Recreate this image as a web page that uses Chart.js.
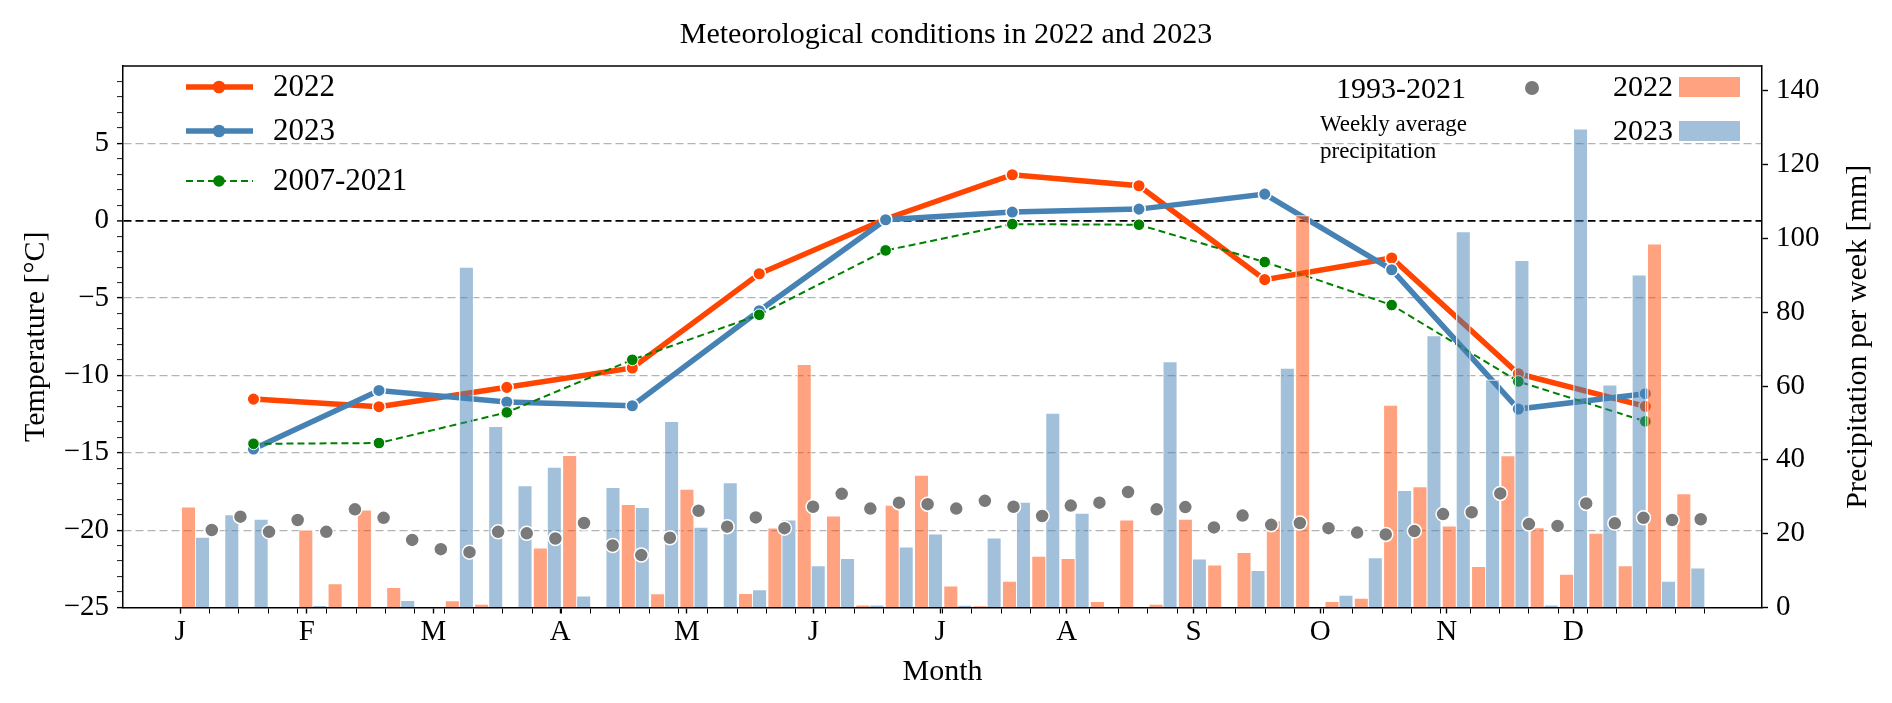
<!DOCTYPE html>
<html>
<head>
<meta charset="utf-8">
<script src="https://cdn.jsdelivr.net/npm/chart.js@4.4.1/dist/chart.umd.min.js"></script>
<style>
  html, body { margin: 0; padding: 0; background: #fff; }
  canvas { display: block; }
</style>
</head>
<body>
<canvas id="chart" width="1892" height="703"></canvas>
<script>
const SERIF = "'Liberation Serif', 'Times New Roman', serif";

// month axis
const MONTH_LABELS = ['J', 'F', 'M', 'A', 'M', 'J', 'J', 'A', 'S', 'O', 'N', 'D'];
const MONTH_TICKS  = [0, 4.32, 8.64, 12.96, 17.28, 21.6, 25.92, 30.24, 34.56, 38.88, 43.2, 47.52];

// axis ticks
const TEMP_TICKS = [-25, -24, -23, -22, -21, -20, -19, -18, -17, -16, -15, -14, -13, -12, -11,
  -10, -9, -8, -7, -6, -5, -4, -3, -2, -1, 0, 1, 2, 3, 4, 5, 6, 7, 8, 9, 10];
const PREC_TICKS = [0, 20, 40, 60, 80, 100, 120, 140];

// monthly mean temperature, placed at these week positions
const MONTH_POS    = [2.5, 6.78, 11.14, 15.42, 19.75, 24.06, 28.38, 32.7, 36.99, 41.32, 45.64, 49.97];
const TEMP_2022    = [-11.53, -12.02, -10.77, -9.52, -3.43, 0.11, 2.97, 2.26, -3.81, -2.41, -9.89, -12.0];
const TEMP_2023    = [-14.76, -10.97, -11.72, -11.96, -5.82, 0.06, 0.56, 0.75, 1.72, -3.17, -12.17, -11.18];
const TEMP_0721    = [-14.42, -14.37, -12.39, -8.99, -6.08, -1.92, -0.22, -0.26, -2.67, -5.45, -10.39, -12.97];

// weekly precipitation [mm], weeks 0..52
const PREC_2022 = [
  0, 27.2, 0, 0, 0, 21.0, 6.4, 26.4, 5.4, 0,
  1.8, 0.9, 0, 16.1, 41.2, 0, 27.9, 3.7, 32.0, 0,
  3.8, 21.5, 65.8, 24.8, 0.7, 27.7, 35.8, 5.8, 0.3, 7.1,
  13.9, 13.3, 1.6, 23.7, 0.9, 23.9, 11.5, 14.9, 23.5, 106.2,
  1.6, 2.5, 54.8, 32.7, 22.1, 11.1, 41.1, 21.6, 9.0, 20.1,
  11.3, 98.5, 30.8
];
const PREC_2023 = [
  0, 19.0, 25.1, 23.9, 0, 0.5, 0, 0, 1.9, 0,
  92.2, 49.0, 33.0, 38.0, 3.1, 32.5, 27.1, 50.4, 21.7, 33.8,
  4.8, 23.7, 11.3, 13.3, 0.7, 16.4, 19.9, 0.6, 18.8, 28.5,
  52.6, 25.5, 0, 0, 66.6, 13.1, 0, 10.0, 64.8, 0,
  3.3, 13.5, 31.7, 73.6, 101.8, 61.7, 94.0, 0.7, 129.6, 60.3,
  90.1, 7.1, 10.7
];
// 1993-2021 weekly average precipitation [mm], weeks 1..53
const PREC_AVG = [
  21.0, 24.6, 20.5, 23.7, 20.5, 26.6, 24.3, 18.3, 15.8, 15.0,
  20.5, 20.1, 18.7, 22.9, 16.8, 14.2, 18.9, 26.2, 21.9, 24.4,
  21.5, 27.3, 30.8, 26.8, 28.4, 28.0, 26.8, 28.9, 27.3, 24.8,
  27.6, 28.4, 31.3, 26.6, 27.2, 21.7, 24.9, 22.4, 22.9, 21.5,
  20.3, 19.8, 20.7, 25.3, 25.8, 30.9, 22.6, 22.1, 28.2, 22.8,
  24.3, 23.7, 23.9
];

const WEEKS = PREC_2022.map((_, i) => i);
const AVG_WEEKS = PREC_AVG.map((_, i) => i + 1);

const ORANGE = '#FF4500';
const BLUE = '#4682B4';
const GREEN = '#008000';
const GREY = '#7a7a7a';

Chart.defaults.font.family = SERIF;
Chart.defaults.color = '#000';

const fmtTemp = v => (v < 0 ? '\u2212' + Math.abs(v) : String(v));
const asTicks = arr => arr.map(v => ({ value: v }));

// top spine + right axis title (reads bottom to top, like the original)
const framePlugin = {
  id: 'frame',
  afterDraw(chart) {
    const { ctx, chartArea: a } = chart;
    ctx.save();
    ctx.strokeStyle = '#000';
    ctx.lineWidth = 1.5;
    ctx.beginPath();
    ctx.moveTo(a.left, a.top);
    ctx.lineTo(a.right, a.top);
    ctx.stroke();

    const t = chart.options.scales.y1.title;
    ctx.translate(1858, (a.top + a.bottom) / 2);
    ctx.rotate(-Math.PI / 2);
    ctx.font = `30px ${SERIF}`;
    ctx.fillStyle = '#000';
    ctx.textAlign = 'center';
    ctx.textBaseline = 'middle';
    ctx.fillText(t.text, 0, 0);
    ctx.restore();
  }
};

const legendPlugin = {
  id: 'cornerLegends',
  afterDraw(chart) {
    const { ctx } = chart;
    const ds = chart.data.datasets;
    ctx.save();
    ctx.textBaseline = 'middle';

    // left: line series
    const rows = [87, 131, 181];
    ds.filter(d => d.type === 'line' && d.showLine !== false)
      .sort((p, q) => q.order - p.order)
      .forEach((d, i) => {
        const y = rows[i];
        ctx.strokeStyle = d.borderColor;
        ctx.lineWidth = d.borderWidth;
        ctx.setLineDash(d.borderDash || []);
        ctx.beginPath();
        ctx.moveTo(186, y);
        ctx.lineTo(253, y);
        ctx.stroke();
        ctx.setLineDash([]);
        ctx.beginPath();
        ctx.arc(219, y, d.pointRadius, 0, Math.PI * 2);
        ctx.fillStyle = d.pointBackgroundColor;
        ctx.fill();
        ctx.fillStyle = '#000';
        ctx.font = `31px ${SERIF}`;
        ctx.textAlign = 'left';
        ctx.fillText(d.label, 273, y + 1);
      });

    // right: average dots and bar patches
    const avg = ds.find(d => d.showLine === false);
    ctx.font = `30px ${SERIF}`;
    ctx.textAlign = 'right';
    ctx.fillStyle = '#000';
    ctx.fillText(avg.label, 1466, 90);
    ctx.beginPath();
    ctx.arc(1532, 88, 7, 0, Math.PI * 2);
    ctx.fillStyle = avg.pointBackgroundColor;
    ctx.fill();
    ctx.fillStyle = '#000';
    ctx.font = `23px ${SERIF}`;
    ctx.textAlign = 'left';
    ctx.fillText('Weekly average', 1320, 125);
    ctx.fillText('precipitation', 1320, 152);

    const bars = ds.filter(d => d.type === 'bar');
    const patchY = [77, 121];
    bars.forEach((d, i) => {
      ctx.fillStyle = d.backgroundColor;
      ctx.fillRect(1679, patchY[i], 61, 20);
      ctx.fillStyle = '#000';
      ctx.font = `30px ${SERIF}`;
      ctx.textAlign = 'right';
      ctx.fillText(d.label, 1673, patchY[i] + 11);
    });
    ctx.restore();
  }
};

const pts = (xs, ys) => xs.map((x, i) => ({ x, y: ys[i] }));

new Chart(document.getElementById('chart'), {
  type: 'bar',
  data: {
    datasets: [
      {
        type: 'line', label: '2022', data: pts(MONTH_POS, TEMP_2022),
        xAxisID: 'x', yAxisID: 'y', order: 4,
        borderColor: ORANGE, borderWidth: 5.5,
        pointRadius: 6.3, pointBackgroundColor: ORANGE,
        pointBorderColor: '#fff', pointBorderWidth: 1.5, tension: 0
      },
      {
        type: 'line', label: '2023', data: pts(MONTH_POS, TEMP_2023),
        xAxisID: 'x', yAxisID: 'y', order: 3,
        borderColor: BLUE, borderWidth: 5.5,
        pointRadius: 6.3, pointBackgroundColor: BLUE,
        pointBorderColor: '#fff', pointBorderWidth: 1.5, tension: 0
      },
      {
        type: 'line', label: '2007-2021', data: pts(MONTH_POS, TEMP_0721),
        xAxisID: 'x', yAxisID: 'y', order: 2,
        borderColor: GREEN, borderWidth: 2, borderDash: [7, 4],
        pointRadius: 5.8, pointBackgroundColor: GREEN,
        pointBorderColor: '#fff', pointBorderWidth: 1, tension: 0
      },
      {
        type: 'bar', label: '2022', data: pts(WEEKS, PREC_2022),
        xAxisID: 'x', yAxisID: 'y1', order: 1,
        backgroundColor: 'rgba(255,69,0,0.5)', borderColor: '#fff', borderWidth: 0.8,
        barThickness: 14
      },
      {
        type: 'bar', label: '2023', data: pts(WEEKS, PREC_2023),
        xAxisID: 'x', yAxisID: 'y1', order: 1,
        backgroundColor: 'rgba(70,130,180,0.5)', borderColor: '#fff', borderWidth: 0.8,
        barThickness: 14
      },
      {
        type: 'line', label: '1993-2021', data: pts(AVG_WEEKS, PREC_AVG),
        xAxisID: 'xAvg', yAxisID: 'y1', order: 0, showLine: false,
        pointRadius: 7, pointBackgroundColor: GREY,
        pointBorderColor: '#fff', pointBorderWidth: 1.5
      }
    ]
  },
  options: {
    responsive: false,
    devicePixelRatio: 1,
    animation: false,
    layout: { padding: 0 },
    plugins: {
      legend: { display: false },
      tooltip: { enabled: false },
      title: {
        display: true,
        text: 'Meteorological conditions in 2022 and 2023',
        font: { size: 30, weight: 'normal', family: SERIF },
        color: '#000',
        padding: { top: 17, bottom: 13 }
      }
    },
    scales: {
      x: {
        type: 'linear', position: 'bottom',
        min: -1.95, max: 53.95, offset: false,
        afterFit: s => { s.height = 95.5; },
        afterBuildTicks: axis => { axis.ticks = asTicks([...WEEKS, ...MONTH_TICKS]); },
        ticks: {
          autoSkip: false, maxRotation: 0, padding: 1,
          font: { size: 29 },
          callback: (v, i) => (i >= WEEKS.length ? MONTH_LABELS[i - WEEKS.length] : '')
        },
        grid: {
          offset: false, drawOnChartArea: false, tickLength: 6,
          tickColor: '#000',
          tickWidth: c => (c.index >= WEEKS.length ? 1.4 : 1)
        },
        border: { color: '#000', width: 1.5 },
        title: {
          display: true, text: 'Month',
          font: { size: 30 }, padding: { top: 0, bottom: 13 }
        }
      },
      xAvg: {
        type: 'linear', display: false,
        min: -2.1, max: 55.14, offset: false
      },
      y: {
        type: 'linear', position: 'left',
        min: -25, max: 10,
        afterFit: s => { s.width = 123; },
        afterBuildTicks: axis => { axis.ticks = asTicks(TEMP_TICKS); },
        ticks: {
          autoSkip: false, padding: 8, font: { size: 29 },
          callback: v => (v % 5 === 0 && v <= 5 ? fmtTemp(v) : '')
        },
        grid: {
          tickLength: 6,
          color: c => {
            const v = c.tick.value;
            if (v === 0) return '#000';
            if (v % 5 === 0 && v > -25 && v < 10) return '#b3b3b3';
            return 'rgba(0,0,0,0)';
          },
          lineWidth: c => (c.tick.value === 0 ? 1.8 : 1.2),
          tickColor: c => (c.tick.value < 10 ? '#000' : 'rgba(0,0,0,0)'),
          tickWidth: c => (c.tick.value % 5 === 0 ? 1.4 : 0.9)
        },
        border: { color: '#000', width: 1.5, dash: [8, 4] },
        title: {
          display: true, text: 'Temperature [°C]',
          font: { size: 30 }, padding: { top: 18, bottom: 0 }
        }
      },
      y1: {
        type: 'linear', position: 'right',
        min: 0, max: 146.7,
        afterFit: s => { s.width = 130; },
        afterBuildTicks: axis => { axis.ticks = asTicks(PREC_TICKS); },
        ticks: { autoSkip: false, padding: 8, font: { size: 29 } },
        grid: {
          drawOnChartArea: false, tickLength: 6,
          tickColor: '#000', tickWidth: 1.4
        },
        border: { color: '#000', width: 1.5 },
        title: { display: false, text: 'Precipitation per week [mm]' }
      }
    }
  },
  plugins: [framePlugin, legendPlugin]
});
</script>
</body>
</html>
